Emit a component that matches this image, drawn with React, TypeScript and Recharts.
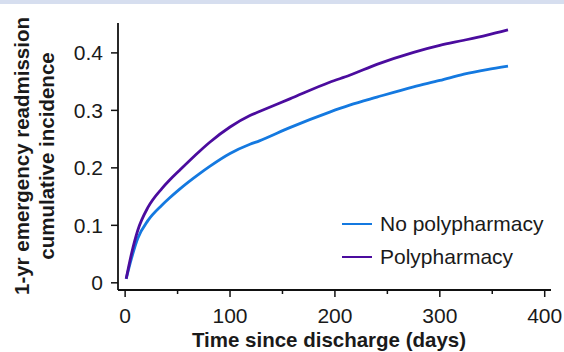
import { LineChart, Line, XAxis, YAxis } from "recharts";

const days = [1, 6, 12, 22, 35, 42, 52, 71, 81, 100, 119, 128, 157, 195, 214, 240, 275, 300, 323, 345, 365];
const noPoly = [0.007, 0.042, 0.077, 0.109, 0.135, 0.147, 0.163, 0.19, 0.203, 0.225, 0.241, 0.247, 0.27, 0.297, 0.309, 0.323, 0.341, 0.352, 0.363, 0.371, 0.377];
const poly = [0.007, 0.05, 0.091, 0.132, 0.164, 0.178, 0.196, 0.229, 0.245, 0.271, 0.291, 0.298, 0.32, 0.349, 0.361, 0.38, 0.401, 0.413, 0.422, 0.431, 0.44];
const xTicks = [0, 50, 100, 150, 200, 250, 300, 350, 400];
const yTicks = [0, 0.1, 0.2, 0.3, 0.4];

const data = days.map((d, i) => ({ day: d, noPoly: noPoly[i], poly: poly[i] }));

const FONT = "'Liberation Sans', Arial, sans-serif";
const BLUE = "#1479e0";
const PURPLE = "#4b0c9e";

const XTick = (props: any) => {
  const { x, y, payload } = props;
  const major = payload.value % 100 === 0;
  return (
    <g>
      <line x1={x} x2={x} y1={y} y2={y + (major ? 7 : 4)} stroke="#111" strokeWidth={1.5} />
      {major && (
        <text x={x} y={y + 33} textAnchor="middle" fontSize={21} fill="#1a1a1a" fontFamily={FONT}>
          {payload.value}
        </text>
      )}
    </g>
  );
};

const YTick = (props: any) => {
  const { x, y, payload } = props;
  return (
    <g>
      <line x1={x} x2={x - 7} y1={y} y2={y} stroke="#111" strokeWidth={1.5} />
      <text x={x - 15} y={y} dy={7.5} textAnchor="end" fontSize={21} fill="#1a1a1a" fontFamily={FONT}>
        {payload.value === 0 ? "0" : payload.value.toFixed(1)}
      </text>
    </g>
  );
};

const legendItems = [
  { name: "No polypharmacy", color: BLUE },
  { name: "Polypharmacy", color: PURPLE },
];

export default function App() {
  return (
    <div style={{ position: "absolute", left: 0, top: 0, width: 564, height: 352, background: "#fff" }}>
      <div style={{ position: "absolute", left: 0, top: 0, width: 564, height: 4, background: "#d6deef", zIndex: 2 }} />
      <LineChart width={564} height={352} data={data} margin={{ top: 23, right: 13, bottom: 2, left: 58 }}>
        <XAxis
          dataKey="day"
          type="number"
          domain={[-6.8, 406]}
          ticks={xTicks}
          allowDataOverflow
          interval={0}
          tickLine={false}
          tickSize={0}
          tickMargin={0}
          tick={<XTick />}
          height={60}
          axisLine={{ stroke: "#111", strokeWidth: 1.8 }}
        />
        <YAxis
          type="number"
          domain={[-0.0125, 0.452]}
          ticks={yTicks}
          allowDataOverflow
          interval={0}
          tickLine={false}
          tickSize={0}
          tickMargin={0}
          tick={<YTick />}
          width={60}
          axisLine={{ stroke: "#111", strokeWidth: 1.8 }}
        />
        <Line dataKey="noPoly" stroke={BLUE} strokeWidth={2.8} dot={false} isAnimationActive={false} type="monotone" />
        <Line dataKey="poly" stroke={PURPLE} strokeWidth={2.8} dot={false} isAnimationActive={false} type="monotone" />
        <text x={21} y={156} transform="rotate(-90 21 156)" textAnchor="middle" dominantBaseline="central" fontSize={20.5} fontWeight="bold" fill="#1a1a1a" fontFamily={FONT}>
          1-yr emergency readmission
        </text>
        <text x={46} y={156} transform="rotate(-90 46 156)" textAnchor="middle" dominantBaseline="central" fontSize={20.5} fontWeight="bold" fill="#1a1a1a" fontFamily={FONT}>
          cumulative incidence
        </text>
        <text x={329} y={347} textAnchor="middle" fontSize={20.5} fontWeight="bold" fill="#1a1a1a" fontFamily={FONT}>
          Time since discharge (days)
        </text>
      </LineChart>
      <div style={{ position: "absolute", left: 342, top: 207, fontFamily: FONT, fontSize: 21, color: "#1a1a1a" }}>
        {legendItems.map((it) => (
          <div key={it.name} style={{ display: "flex", alignItems: "center", height: 33, whiteSpace: "nowrap" }}>
            <div style={{ width: 30, height: 2, background: it.color, marginRight: 8 }} />
            <span>{it.name}</span>
          </div>
        ))}
      </div>
    </div>
  );
}
